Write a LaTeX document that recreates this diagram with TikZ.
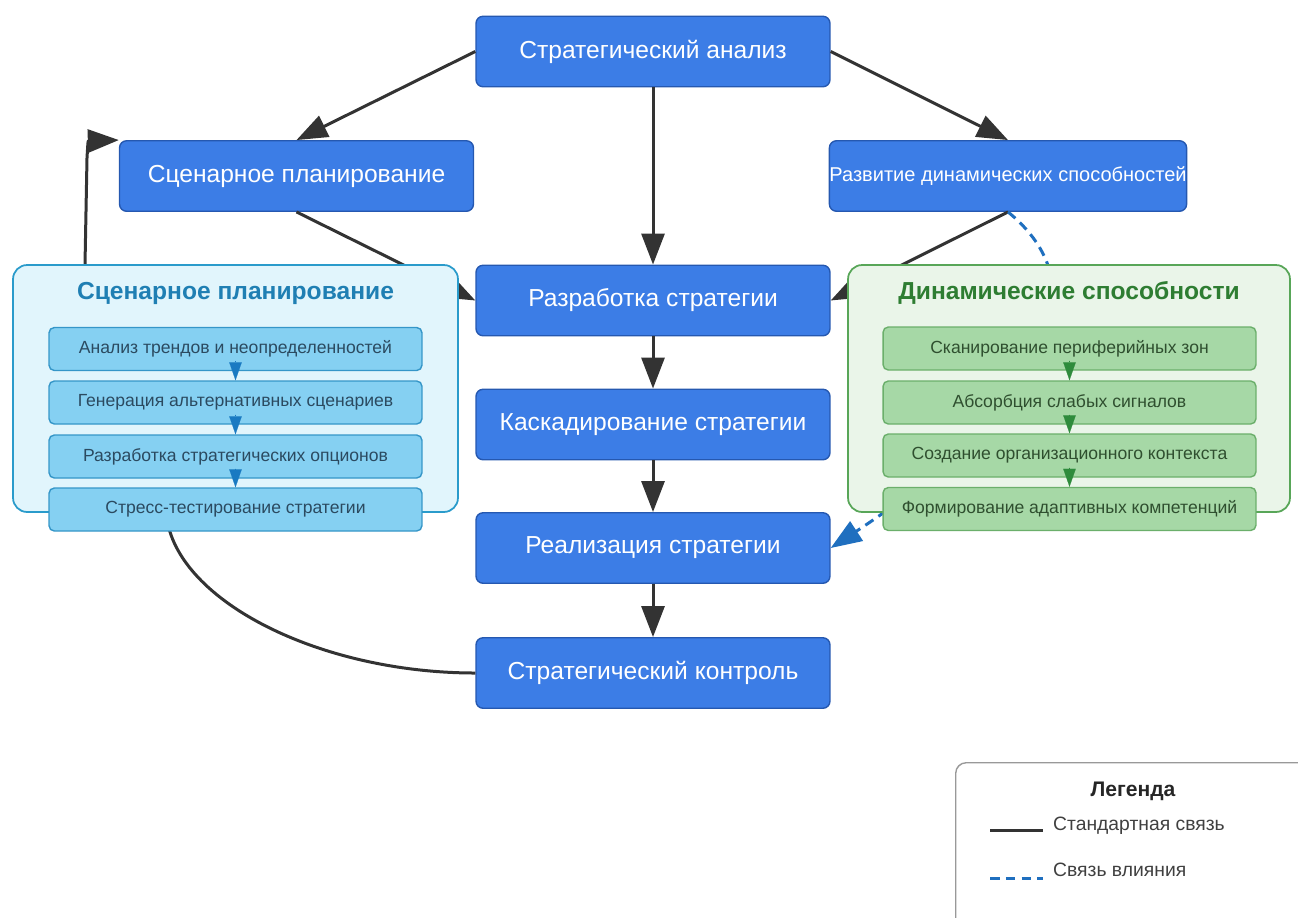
\documentclass[tikz,border=0pt]{standalone}
\usepackage{fontspec}
\setmainfont{Liberation Sans}
\usetikzlibrary{arrows.meta}

\definecolor{boxblue}{HTML}{3C7DE6}
\definecolor{boxedge}{HTML}{2558B0}
\definecolor{linkgray}{HTML}{333333}
\definecolor{scenfill}{HTML}{E1F5FC}
\definecolor{scenedge}{HTML}{2A9BCB}
\definecolor{scentitle}{HTML}{1F7FB3}
\definecolor{scenstep}{HTML}{85D0F2}
\definecolor{scenstepedge}{HTML}{3596C8}
\definecolor{scentext}{HTML}{2B4A60}
\definecolor{scenarrow}{HTML}{1A7AC2}
\definecolor{dynfill}{HTML}{EAF5E9}
\definecolor{dynedge}{HTML}{58A658}
\definecolor{dyntitle}{HTML}{2E7D32}
\definecolor{dynstep}{HTML}{A6D8A6}
\definecolor{dynstepedge}{HTML}{6BAF6B}
\definecolor{dyntext}{HTML}{2F4F2F}
\definecolor{dynarrow}{HTML}{2E8B3C}
\definecolor{influence}{HTML}{1F6FBF}

\begin{document}
\begin{tikzpicture}
  [x=0.02cm,y=-0.02cm,
   stage/.style={draw=boxedge,fill=boxblue,text=white,rounded corners=4pt,line width=0.8pt,
     minimum width=7.08cm,minimum height=1.41cm,inner sep=0pt,font=\fontsize{14}{16}\selectfont},
   link/.style={draw=linkgray,line width=0.06cm,-{Triangle[length=0.62cm,width=0.46cm]}},
   inflink/.style={draw=influence,line width=0.06cm,dash pattern=on 5.5pt off 3.5pt,
     -{Triangle[length=0.62cm,width=0.46cm]}},
   panel/.style={rounded corners=8pt,line width=1pt,inner sep=0pt},
   substep/.style={rounded corners=3pt,line width=0.8pt,minimum width=7.46cm,minimum height=0.86cm,
     inner sep=0pt,font=\fontsize{10}{12}\selectfont},
   minitip/.style={-{Triangle[length=0.36cm,width=0.25cm]},line width=0.1pt}]

  \clip (0,0) rectangle (1298,917);

  \node[stage] (sa) at (653,51.5) {Стратегический анализ};
  \node[stage] (sp) at (296.5,176) {Сценарное планирование};
  \node[stage,minimum width=7.12cm,font=\fontsize{11.4}{13}\selectfont] (rd) at (1008,176) {Развитие динамических способностей};
  \node[stage] (rs) at (653,300.5) {Разработка стратегии};
  \node[stage] (ks) at (653,424.5) {Каскадирование стратегии};
  \node[stage] (re) at (653,548) {Реализация стратегии};
  \node[stage] (kc) at (653,673) {Стратегический контроль};

  \foreach \from/\to in {sa/rs,rs/ks,ks/re,re/kc}
  \draw[link] (\from) -- (\to);
  \draw[link] (sa.west) -- (sp.north);
  \draw[link] (sa.east) -- (rd.north);
  \draw[link] (sp.south) -- (rs.west);
  \draw[link] (rd.south) -- (rs.east);
  \draw[inflink] (rd.south) .. controls (1140,320) and (950,470) .. (re.east);
  \draw[link] (kc.west) .. controls (330,673) and (195,610) .. (170,532) -- (85,265)
    -- (87,158) .. controls (88,141) .. (sp.north west);

  \node[panel,draw=scenedge,fill=scenfill,minimum width=8.9cm,minimum height=4.94cm] (scen) at (235.5,388.5) {};
  \node[font=\bfseries\fontsize{14}{17}\selectfont,text=scentitle] (scenhead) at (235.5,293) {Сценарное планирование};
  \node[panel,draw=dynedge,fill=dynfill,minimum width=8.84cm,minimum height=4.94cm] (dyn) at (1069,388.5) {};
  \node[font=\bfseries\fontsize{14}{17}\selectfont,text=dyntitle] (dynhead) at (1069,293) {Динамические способности};

  \foreach \n/\y/\t in {1/349/Анализ трендов и неопределенностей,
                        2/402.5/Генерация альтернативных сценариев,
                        3/456.5/Разработка стратегических опционов,
                        4/509.5/Стресс-тестирование стратегии}
  \node[substep,draw=scenstepedge,fill=scenstep,text=scentext] (s\n) at (235.5,\y) {\t};
  \foreach \n/\y/\t in {1/348.5/Сканирование периферийных зон,
                        2/402.5/Абсорбция слабых сигналов,
                        3/455.5/Создание организационного контекста,
                        4/509/Формирование адаптивных компетенций}
  \node[substep,draw=dynstepedge,fill=dynstep,text=dyntext] (d\n) at (1069.5,\y) {\t};

  \foreach \a/\b in {1/2,2/3,3/4}
  {
    \draw[minitip,draw=scenarrow,fill=scenarrow] ([yshift=0.2cm]s\a.south) -- (s\b.north);
    \draw[minitip,draw=dynarrow,fill=dynarrow] ([yshift=0.2cm]d\a.south) -- (d\b.north);
  }

  \node[draw=black!40,line width=0.8pt,rounded corners=6pt,minimum width=7.4cm,minimum height=3.8cm,anchor=north west] (legend) at (955,762) {};
  \node[font=\bfseries\fontsize{12}{14}\selectfont,text=black!85] (legendhead) at (1133,791) {Легенда};
  \coordinate (std1) at (990,830);
  \coordinate (std2) at (1043,830);
  \coordinate (inf1) at (990,878);
  \coordinate (inf2) at (1043,878);
  \draw[draw=linkgray,line width=0.06cm] (std1) -- (std2);
  \draw[draw=influence,line width=0.06cm,dash pattern=on 5.5pt off 3.5pt] (inf1) -- (inf2);
  \node[anchor=west,font=\fontsize{11}{13}\selectfont,text=black!75] (stdtext) at (1047,826) {Стандартная связь};
  \node[anchor=west,font=\fontsize{11}{13}\selectfont,text=black!75] (inftext) at (1047,870) {Связь влияния};
\end{tikzpicture}
\end{document}
